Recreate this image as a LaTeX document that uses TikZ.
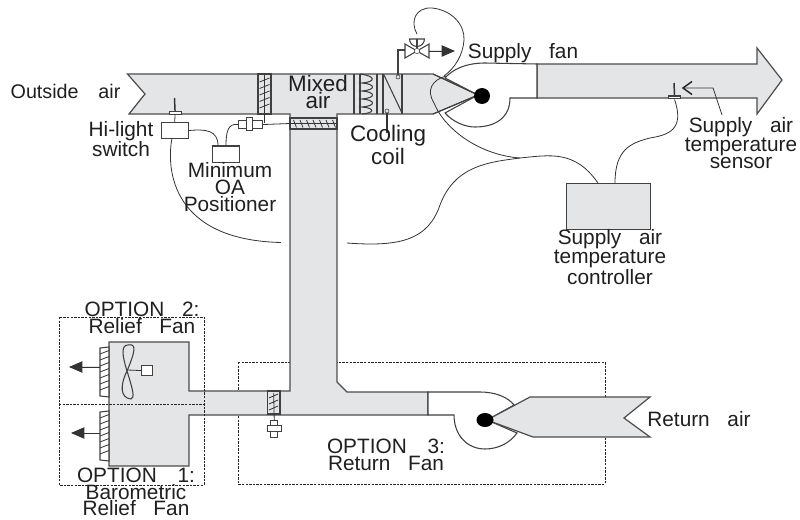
\documentclass[tikz,border=0pt]{standalone}
\usepackage{fontspec}
\setmainfont{Liberation Sans}
\usetikzlibrary{arrows.meta}
\newcommand{\gp}{\hspace{0.85em}}
\newcommand{\gq}{\hspace{1.0em}}
\tikzset{
 duct/.style={draw=black!70,fill=ductgray,line width=0.9pt,line join=miter},
 edgeline/.style={draw=black!75,line width=0.8pt},
 wire/.style={draw=black!80,line width=0.6pt},
 dashbox/.style={draw=black!85,line width=0.6pt,dash pattern=on 1.8pt off 0.9pt},
 lab/.style={font=\fontsize{15.6}{12.6}\selectfont,text=black!88,align=center,inner sep=0pt},
 labb/.style={lab,font=\fontsize{16.8}{12.6}\selectfont},
 labs/.style={lab,font=\fontsize{14.8}{12.6}\selectfont},
 whitebox/.style={draw=black!75,fill=white,line width=0.8pt,inner sep=0pt,anchor=north west},
 headtip/.style={-{Triangle[length=10pt,width=8.5pt]},line width=0.7pt,draw=black!80,fill=black!85},
}
\definecolor{ductgray}{HTML}{E4E5E7}
\begin{document}
\begin{tikzpicture}[x=0.75pt,y=-0.75pt]
\useasboundingbox (0,0) rectangle (800,520);
% dashed option frames
\draw[dashbox] (238,362) rectangle (605,484);
% main ducts
\draw[duct] (127.5,74) -- (433,74) -- (478,95) -- (433,114) -- (337,114) -- (337,382) -- (347,392) -- (428,392) -- (428,415) -- (189,415) -- (189,466) -- (109,466) -- (109,342) -- (189,342) -- (189,391) -- (290,391) -- (290,114) -- (129,114) -- (145,94) -- cycle;
\draw[duct] (537,64) -- (757,64) -- (757,48) -- (782,80) -- (757,114) -- (757,98) -- (537,98) -- cycle;
\draw[dashbox] (59,317) rectangle (204,485);
\draw[dashbox] (59,404) -- (204,404);
% supply fan scroll
\draw[edgeline,fill=white] (537,64) -- (537,98) -- (510,98) .. controls (510,118) and (495,127) .. (475,127) .. controls (465,127) and (453,122) .. (445,113) -- (478,95) -- (445,78) .. controls (452,70) and (465,63) .. (485,63) -- cycle;
\fill[ductgray] (430,75) -- (433,75) -- (476,95) -- (433,113) -- (430,113) -- cycle;
\draw[edgeline] (433,74) -- (478,95) -- (433,114);
\fill[black] (482,96) ellipse (8 and 8);
% return fan
\draw[edgeline,fill=white] (428,392) -- (480,392) .. controls (495,392) and (508,397) .. (514,405) -- (487,420) -- (517,433) .. controls (510,443) and (498,449) .. (485,449) .. controls (467,449) and (454,435) .. (454,415) -- (428,415) -- cycle;
\draw[duct] (650,397) -- (530,397) -- (487,420) -- (533,437) -- (650,437) -- (624,418) -- cycle;
\fill[black] (485,420) ellipse (8.5 and 7);
% outside damper
\draw[edgeline,fill=ductgray] (258,74) rectangle (271,114);
\draw[wire] (264.5,75) -- (264.5,123);
\foreach \y in {80,86.5,...,112}{\draw[wire] (259.5,\y+2) -- (269.5,\y-2);}
% mixing damper
\draw[edgeline,fill=ductgray] (290,118) rectangle (337,129);
\draw[wire] (290,123.5) -- (337,123.5);
\foreach \x in {295,301.5,...,335}{\draw[wire] (\x-1.5,120) -- (\x+1.5,127.5);}
% coil
\draw[edgeline] (354,74) -- (354,114) (360,74) -- (360,114) (377,74) -- (377,114) (383,74) -- (383,114) (402,74) -- (402,114);
\draw[edgeline] (360,74) .. controls (376,76) and (376,82) .. (362,83) .. controls (376,84) and (376,90) .. (362,91) .. controls (376,92) and (376,98) .. (362,99) .. controls (376,100) and (376,106) .. (362,107) .. controls (375,108) and (375,113) .. (362,114);
\draw[edgeline] (384,75) -- (402,113);
\node[circle,draw=black!80,fill=ductgray,inner sep=0pt,minimum size=3pt] (valvedot) at (398,77) {};
\node[circle,draw=black!80,fill=ductgray,inner sep=0pt,minimum size=3pt] (coildot) at (387,111) {};
\coordinate (coilstem) at (387,133);
\draw[wire,line width=0.9pt] (coildot) -- (coilstem);
% valve
\coordinate (vc) at (417,51);
\draw[edgeline,fill=white] (405,44) -- (429,58) -- (429,44) -- (405,58) -- cycle;
\node[circle,draw=black!80,fill=white,inner sep=0pt,minimum size=4pt] (valve) at (vc) {};
\draw[edgeline,fill=white] (409.5,39) arc[start angle=180,end angle=0,radius=7.5] -- cycle;
\draw[edgeline] (417,39) -- (valve);
\coordinate (valveleft) at (405,50);
\coordinate (valvetip) at (455,51);
\coordinate (valveright) at (429,51);
\draw[edgeline] (valveleft) -- (398,50) -- (valvedot);
\draw[headtip] (valveright) -- (valvetip);
\coordinate (acttop) at (417,34);
\coordinate (loopend) at (444,76);
\draw[wire] (acttop) .. controls (410,22) and (415,7) .. (432,8) .. controls (452,10) and (465,25) .. (464,40) .. controls (463,55) and (455,68) .. (loopend);
% controller and switches
\node[whitebox,fill=ductgray,minimum width=63pt,minimum height=34.5pt] (ctrl) at (566,183) {};
\node[whitebox,minimum width=20.5pt,minimum height=12pt] (hi) at (160.5,122) {};
\node[whitebox,minimum width=20.5pt,minimum height=12.5pt] (minpos) at (212,145.5) {};
% hi-light sensor
\node[whitebox,minimum width=9pt,minimum height=2.2pt] (hiplate) at (168.5,111) {};
\coordinate (histem) at (174.5,98);
\draw[line width=1.1pt,draw=black!80] (histem) -- (hiplate.north);
\draw[wire] (hiplate.south) -- (hi.north);
% actuator
\node[whitebox,minimum width=18pt,minimum height=6pt] (actbar) at (238,120) {};
\node[whitebox,minimum width=4.5pt,minimum height=10pt] (actbig) at (246,117) {};
\coordinate (act) at (290,123.5);
\draw[wire] (actbar.east) -- (act);
% wires
\coordinate (hiwireend) at (281,242.5);
\draw[wire] (172,138) .. controls (166,170) and (172,240) .. (hiwireend);
\draw[wire] (hi.east) .. controls (205,129) and (218,130) .. (218,145.5);
\draw[wire] (226,145.5) .. controls (226,132) and (228,123) .. (actbar.west);
\coordinate (wa) at (446,76);
\coordinate (wb) at (520,158);
\draw[wire] (wa) .. controls (432,80) and (426,90) .. (434,103) .. controls (445,130) and (480,155) .. (wb);
\coordinate (wc) at (347,243);
\draw[wire] (wc) .. controls (400,247) and (428,240) .. (440,205) .. controls (455,165) and (490,162) .. (wb) .. controls (550,155) and (575,150) .. (598,183);
% sensor
\node[whitebox,minimum width=9pt,minimum height=2.2pt] (splate) at (668,95.5) {};
\coordinate (sstem) at (674,83);
\draw[line width=1.1pt,draw=black!80] (sstem) -- (splate.north);
\coordinate (ctrltop) at (615,183);
\draw[wire] (ctrltop) .. controls (615,150) and (630,143) .. (650,138) .. controls (668,135) and (685,130) .. (splate.south);
\coordinate (chev) at (683,88);
\coordinate (ptr) at (722,115);
\draw[wire] (chev) -- (713,88) -- (ptr);
\draw[line width=1.1pt,draw=black!85] (692,81.5) -- (chev) -- (692,94.5);
% grilles
\foreach \yt/\yb/\ya/\xa in {348/396/367/69,412/460/433/71}{
 \draw[edgeline,fill=white] (100,\yt) -- (109,\yt-1) -- (109,\yb+1) -- (100,\yb) -- cycle;
 \pgfmathsetmacro{\ys}{\yt+6}\pgfmathsetmacro{\yn}{\yt+12}\pgfmathsetmacro{\ye}{\yb-1}
 \foreach \y in {\ys,\yn,...,\ye}{\draw[wire] (100,\y) -- (109,\y-3.5);}
 \coordinate (gs) at (100,\ya);
 \coordinate (gt) at (\xa,\ya);
 \draw[headtip] (gs) -- (gt);
}
% fan blade
\draw[edgeline,fill=ductgray] (127,371) .. controls (122,355) and (121,345) .. (128,345) .. controls (137,343) and (135,352) .. (127,371) .. controls (120,385) and (120,398) .. (131,399) .. controls (135,398) and (133,390) .. (127,371) -- cycle;
\node[whitebox,minimum width=8.5pt,minimum height=7.5pt] (relsq) at (141,365) {};
\coordinate (relshaft) at (127,370);
\draw[wire] (relshaft) -- (relsq.west);
% return damper
\draw[edgeline,fill=ductgray] (267.5,391) rectangle (280,414);
\foreach \y in {396,402,408}{\draw[wire] (269,\y+2) -- (278,\y-2);}
\node[whitebox,minimum width=5.5pt,minimum height=13pt] (rv) at (270,420) {};
\node[whitebox,minimum width=11pt,minimum height=4.5pt] (rh) at (266.5,425) {};
\coordinate (rtop) at (273.7,393);
\draw[wire] (rtop) -- (rv.north);
% labels
\node[labs] (t1) at (65.5,91) {Outside\gq air};
\node[labb] (t2) at (318,92) {Mixed\\air};
\node[lab] (t3) at (523,53) {Supply\gp fan};
\node[labb] (t4) at (388,145) {Cooling\\coil};
\node[lab] (t5) at (121,139) {Hi-light\\switch};
\node[lab] (t6) at (230,187) {Minimum\\OA\\Positioner};
\node[lab] (t7) at (610,257) {Supply\gp air\\temperature\\controller};
\node[lab] (t8) at (741,143) {Supply\gp air\\temperature\\sensor};
\node[lab] (t9) at (142,318) {OPTION\gp 2:\\Relief\gp Fan};
\node[lab] (t10) at (136,492) {OPTION\gq 1:\\Barometric\\Relief\gp Fan};
\node[lab] (t11) at (386,455) {OPTION\gq 3:\\Return\gp Fan};
\node[lab] (t12) at (699,419) {Return\gp air};
\end{tikzpicture}
\end{document}
